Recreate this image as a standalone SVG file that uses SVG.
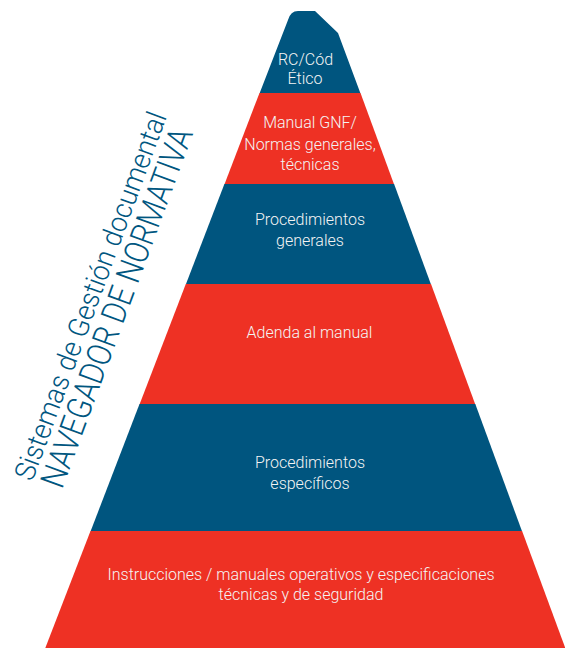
<svg xmlns="http://www.w3.org/2000/svg" width="565" height="648" viewBox="0 0 565 648">
  <style>
    .blue { fill: #00557F; }
    .red { fill: #EE3124; }
    .lbl { font-family: Roboto, "Liberation Sans", sans-serif; font-weight: 300; font-size: 16px; fill: #F4F4F4; text-anchor: middle; }
    .side { font-family: Roboto, "Liberation Sans", sans-serif; font-weight: 300; fill: #00567F; }
  </style>
  <rect width="565" height="648" fill="#FFFFFF"/>
  <g id="side-title">
    <g transform="translate(62,490) rotate(-69.8)">
      <text class="side" x="-3" y="-30.5" font-size="28.5" textLength="390" lengthAdjust="spacingAndGlyphs">Sistemas de Gestión documental</text>
      <text class="side" x="0" y="0" font-size="34" textLength="380" lengthAdjust="spacingAndGlyphs">NAVEGADOR DE NORMATIVA</text>
    </g>
  </g>
  <g id="level-1">
    <path class="blue" d="M259.5,93.5 L288,20 Q290.5,11 298,11 L315,11 L338,33 L360.5,93.5 Z"/>
    <text class="lbl" x="305.5" y="65">RC/Cód</text>
    <text class="lbl" x="305" y="84">Ético</text>
  </g>
  <g id="level-2">
    <polygon class="red" points="259.5,93 360.5,93 394.1,184.5 224.4,184.5"/>
    <text class="lbl" x="310" y="128">Manual GNF/</text>
    <text class="lbl" x="310" y="149.5">Normas generales,</text>
    <text class="lbl" x="310" y="170">técnicas</text>
  </g>
  <g id="level-3">
    <polygon class="blue" points="224.4,184 394.1,184 431,284.5 185.8,284.5"/>
    <text class="lbl" x="310" y="225">Procedimientos</text>
    <text class="lbl" x="310" y="246">generales</text>
  </g>
  <g id="level-4">
    <polygon class="red" points="185.8,284 431,284 475.3,404.5 139.5,404.5"/>
    <text class="lbl" x="309.5" y="338">Adenda al manual</text>
  </g>
  <g id="level-5">
    <polygon class="blue" points="139.5,404 475.3,404 522.1,531.5 90.5,531.5"/>
    <text class="lbl" x="310" y="468">Procedimientos</text>
    <text class="lbl" x="310" y="489">específicos</text>
  </g>
  <g id="level-6">
    <polygon class="red" points="90.5,531 522.1,531 565.3,648 45.3,648"/>
    <text class="lbl" x="301" y="580">Instrucciones / manuales operativos y especificaciones</text>
    <text class="lbl" x="301" y="600">técnicas y de seguridad</text>
  </g>
  <g id="connectors"/>
</svg>
